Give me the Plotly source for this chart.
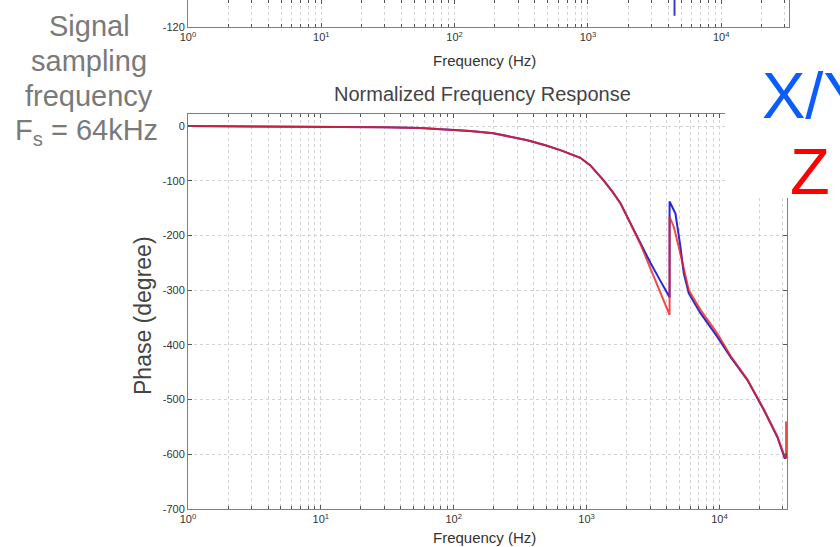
import plotly.graph_objects as go

W, H = 840, 547

# ---------------- data ----------------
# X/Y (blue) phase response
xy_freq = [1, 3, 10, 30, 56, 94, 133, 199, 267, 358, 489, 634, 897, 1067, 1337, 1563,
           1796, 2136, 2543, 3020, 3591, 4210, 4210, 4662, 5082, 5385, 5874, 7193, 9611,
           12100, 16180, 21590, 27210, 30500, 31040, 31700, 32200]
xy_phase = [0, -0.3, -0.8, -2, -3.5, -6, -9, -13, -19, -26, -35, -44, -58, -72, -99, -120,
            -141, -178, -216, -250, -283, -313, -138, -160, -221, -269, -306, -342, -385,
            -422, -464, -519, -568, -601, -608, -603, -598]

# Z (red) phase response
z_freq = [1, 3, 10, 30, 56, 94, 133, 199, 267, 358, 489, 634, 897, 1067, 1337, 1563,
          1796, 2136, 2543, 3020, 3591, 4210, 4210, 4528, 4935, 5385, 5874, 7193, 9611,
          12100, 16180, 21590, 27210, 30500, 31040, 31700, 31700]
z_phase = [0, -0.3, -0.8, -2, -3.5, -6, -9, -13, -19, -26, -35, -44, -58, -72, -99, -120,
           -141, -178, -216, -260, -304, -345, -166, -184, -221, -263, -300, -336, -379,
           -420, -463, -518, -567, -600, -605, -606, -540]

# upper (magnitude) panel remnant: notch line
notch_freq = [4460, 4460]
notch_mag = [-100, -116]

phase_ticks = [-700, -600, -500, -400, -300, -200, -100, 0]
decades = [0, 1, 2, 3, 4]
mag_ticks = [-120]

# ---------------- helpers ----------------
def px(x):
    return x / W

def py(y):
    return 1 - y / H

FONT = "Liberation Sans, Arial, sans-serif"

major_vals = [10 ** d for d in decades]
major_text = [f"10<sup>{d}</sup>" for d in decades]
minor_vals = [m * 10 ** d for d in decades for m in range(2, 10) if m * 10 ** d <= 32200]

fig = go.Figure()

fig.add_trace(go.Scatter(x=xy_freq, y=xy_phase, mode="lines",
                         line=dict(color="rgb(40,40,215)", width=2),
                         xaxis="x", yaxis="y", showlegend=False))
fig.add_trace(go.Scatter(x=z_freq, y=z_phase, mode="lines",
                         line=dict(color="rgba(235,30,30,0.8)", width=2),
                         xaxis="x", yaxis="y", showlegend=False))
fig.add_trace(go.Scatter(x=notch_freq, y=notch_mag, mode="lines",
                         line=dict(color="rgb(60,60,200)", width=2),
                         xaxis="x2", yaxis="y2", showlegend=False))

GRID = "#d2d2d2"
xrange = [0, 4.508]
common_x = dict(type="log", range=xrange, tickvals=major_vals, ticktext=major_text,
                showgrid=True, gridcolor=GRID, griddash="dot", gridwidth=1,
                minor=dict(tickvals=minor_vals, showgrid=True, gridcolor=GRID,
                           griddash="dot", gridwidth=1, ticks="inside", ticklen=3,
                           tickcolor="#555555"),
                showline=True, linecolor="#7f7f7f", linewidth=1, mirror="allticks",
                ticks="inside", ticklen=4, tickcolor="#555555",
                tickfont=dict(family=FONT, size=11, color="#333333"),
                zeroline=False, automargin=False)

fig.update_layout(
    width=W, height=H,
    margin=dict(l=0, r=0, t=0, b=0, autoexpand=False),
    paper_bgcolor="white", plot_bgcolor="white",
    font=dict(family=FONT),
    xaxis=dict(domain=[px(188), px(787)], anchor="y", **common_x),
    yaxis=dict(domain=[py(509), py(114)], anchor="x", range=[-700, 22],
               tickvals=phase_ticks, ticktext=[str(v) for v in phase_ticks],
               showgrid=True, gridcolor=GRID, griddash="dot", gridwidth=1,
               showline=True, linecolor="#7f7f7f", linewidth=1, mirror="allticks",
               ticks="inside", ticklen=4, tickcolor="#555555",
               tickfont=dict(family=FONT, size=11, color="#333333"),
               zeroline=False, automargin=False),
    xaxis2=dict(domain=[px(188), px(789)], anchor="y2", **common_x),
    yaxis2=dict(domain=[py(27), 1.0], anchor="x2", range=[-120, -110.4],
                tickvals=mag_ticks, ticktext=[str(v) for v in mag_ticks],
                showgrid=False, showline=True, linecolor="#7f7f7f", linewidth=1,
                mirror=True, ticks="inside", ticklen=4, tickcolor="#555555",
                tickfont=dict(family=FONT, size=11, color="#333333"),
                zeroline=False, automargin=False),
)

# white box behind the X/Y, Z labels (covers the top-right of the phase plot)
fig.add_shape(type="rect", xref="paper", yref="paper",
              x0=px(725), x1=1.0, y0=py(198), y1=py(65),
              fillcolor="white", line=dict(width=0), layer="above")

ann = []
ann.append(dict(text="Normalized Frequency Response", x=px(483), y=py(94),
                font=dict(size=20, color="#444444")))
ann.append(dict(text="Frequency (Hz)", x=px(485), y=py(537),
                font=dict(size=15, color="#333333")))
ann.append(dict(text="Frequency (Hz)", x=px(485), y=py(60),
                font=dict(size=15, color="#333333")))
ann.append(dict(text="Phase (degree)", x=px(143), y=py(316), textangle=-90,
                font=dict(size=23, color="#444444")))
gray = "#7a7a7a"
ann.append(dict(text="Signal", x=px(89), y=py(26), font=dict(size=29, color=gray)))
ann.append(dict(text="sampling", x=px(89), y=py(61), font=dict(size=29, color=gray)))
ann.append(dict(text="frequency", x=px(89), y=py(96), font=dict(size=29, color=gray)))
ann.append(dict(text="F<sub>s</sub> = 64kHz", x=px(86), y=py(132),
                font=dict(size=29, color=gray)))
ann.append(dict(text="X/Y", x=px(760), y=py(95), xanchor="left",
                font=dict(size=65, color="#0a5cff")))
ann.append(dict(text="Z", x=px(810), y=py(171), font=dict(size=65, color="#ff0000")))

for a in ann:
    a.setdefault("xanchor", "center")
    a.update(xref="paper", yref="paper", yanchor="middle", showarrow=False)
    a["font"]["family"] = FONT
fig.update_layout(annotations=ann)

fig.write_html("out.html",
               config={"displayModeBar": False},
               post_script="document.body.style.margin='0px';"
                           "document.body.style.overflow='hidden';")
